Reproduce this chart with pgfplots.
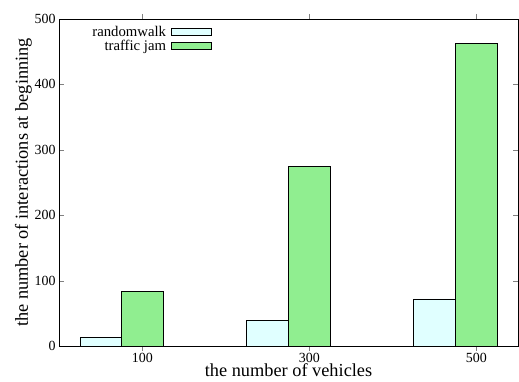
\documentclass[border=0pt]{standalone}
\usepackage{pgfplots}
\pgfplotsset{compat=1.18}
\usepackage{fontspec}
\setmainfont{Liberation Serif}
\definecolor{rwcol}{HTML}{E0FFFF}
\definecolor{tjcol}{HTML}{90EE90}
\begin{document}
\begin{tikzpicture}
\begin{axis}[
  name=ax,
  scale only axis,
  width=459bp, height=327bp,
  xmin=0, xmax=550, ymin=0, ymax=500,
  xtick={100,300,500},
  ytick={0,100,200,300,400,500},
  tick align=inside,
  major tick length=5bp,
  axis line style={line width=0.8bp},
  /pgf/number format/assume math mode=true,
  ticklabel style={font=\rmfamily\fontsize{14}{16}\selectfont},
  xticklabel style={inner ysep=0.5bp, yshift=-1.2bp},
  xlabel={the number of vehicles},
  ylabel={the number of interactions at beginning},
  label style={font=\rmfamily\fontsize{18.4}{20}\selectfont},
  xlabel style={inner ysep=0.5bp, yshift=-0.5bp},
  ylabel style={yshift=-4bp},
  ybar, bar width=41.7bp,
  legend plot pos=right,
  legend cell align=right,
  legend style={draw=none, fill=none, at={(0.34,0.992)}, anchor=north east,
    font=\rmfamily\fontsize{14.8}{15}\selectfont, row sep=-1.5bp, column sep=3bp},
  legend image code/.code={\draw[#1, line width=0.8bp] (0bp,-3.5bp) rectangle (40bp,3.5bp);},
]
\addplot[fill=rwcol, draw=black, line width=0.8bp, bar shift=-41.7bp] coordinates {(100,13) (300,39) (500,72)};
\addlegendentry{randomwalk}
\addplot[fill=tjcol, draw=black, line width=0.8bp, bar shift=0bp] coordinates {(100,83) (300,275) (500,462)};
\addlegendentry{traffic jam}
\end{axis}
\pgfresetboundingbox
\path[use as bounding box] ([shift={(-59bp,-35bp)}]ax.south west) rectangle ([shift={(1bp,19bp)}]ax.north east);
\end{tikzpicture}
\end{document}
